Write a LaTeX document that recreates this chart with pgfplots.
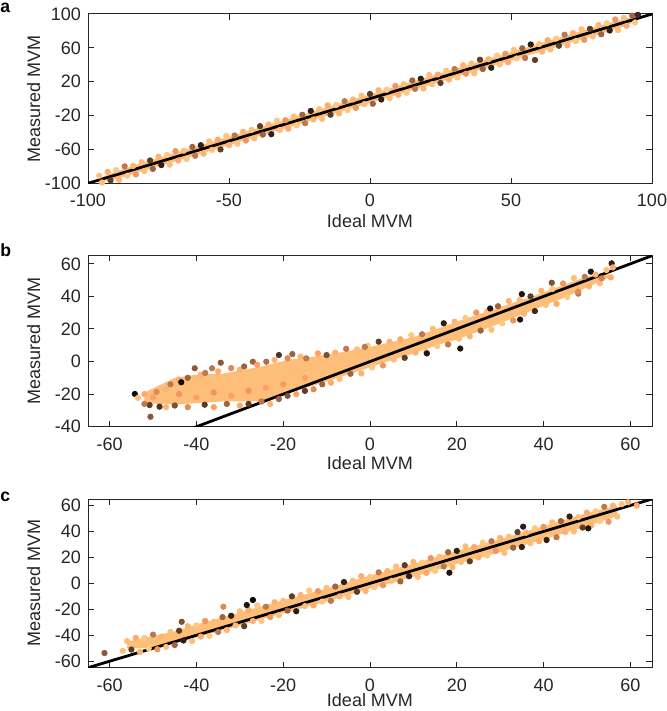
\documentclass[border=0pt]{standalone}
\usepackage{pgfplots}
\pgfplotsset{compat=1.18}
\usepackage{fontspec}
\setmainfont{Liberation Sans}
\definecolor{axgray}{RGB}{38,38,38}
\definecolor{peach}{RGB}{253,190,122}
\pgfplotsset{
  panel/.style={
    scale only axis, width=282pt,
    axis line style={axgray, line width=0.5pt},
    tick style={axgray, line width=0.5pt},
    tick align=inside, major tick length=2.8pt,
    ticklabel style={font=\fontsize{9}{11}\selectfont, text=axgray},
    /pgf/number format/assume math mode=true,
    xticklabel style={yshift=-2pt},
    label style={font=\fontsize{9}{11}\selectfont, text=axgray},
    xlabel={Ideal MVM}, ylabel={Measured MVM},
    xlabel style={at={(axis description cs:0.5,0)}, anchor=north, inner sep=0pt},
    ylabel style={at={([xshift=-23.6pt]axis description cs:0,0.5)}, anchor=south, inner sep=0pt},
    colormap={copper}{rgb255(0pt)=(0,0,0); rgb255(8pt)=(255,159,101); rgb255(10pt)=(255,199,127)},
    point meta min=0, point meta max=1,
  },
  dots/.style={scatter, only marks, mark=*, mark size=1.35pt, point meta=explicit,
    scatter/use mapped color={draw=mapped color, fill=mapped color}},
  band/.style={fill=peach, draw=none},
  diag/.style={black, line width=1.4pt},
}
\tikzset{letter/.style={anchor=base west, inner sep=0pt, font=\bfseries\fontsize{8.8}{10}\selectfont}}
\begin{document}
\begin{tikzpicture}
\useasboundingbox (0,0) rectangle (333pt,-355.5pt);
% ---------------- panel a
\begin{axis}[panel, at={(44pt,-7pt)}, anchor=north west, height=84.65pt,
  xlabel style={yshift=-15.3pt},
  xmin=-100, xmax=100, ymin=-100, ymax=100,
  xtick={-100,-50,0,50,100}, ytick={-100,-60,-20,20,60,100}]
\addplot[band] coordinates {(-96,-94) (-90,-86) (-80,-75) (-60,-55) (-40,-35) (-20,-15) (0,5) (20,25) (40,45) (60,65) (80,85) (90,94) (96,98)
 (96,94) (90,85) (80,75) (60,55) (40,35) (20,15) (0,-5) (-20,-25) (-40,-45) (-60,-65) (-80,-85) (-90,-95) (-96,-98)} -- cycle;
\addplot[dots] table[meta=c] {
x y c
-96 -91 0.95
-93 -86.5 0.85
-90 -84.5 1.0
-87 -80 0.6
-84 -79.5 0.9
-81 -75 0.95
-78 -73 0.3
-75 -68.5 0.9
-72 -66.5 1.0
-69 -62 0.75
-66 -61.5 0.95
-63 -57 0.5
-60 -55 0.15
-57 -50.5 0.95
-54 -48.5 0.85
-51 -44 1.0
-48 -43.5 0.6
-45 -39 0.9
-42 -37 0.95
-39 -32.5 0.3
-36 -30.5 0.9
-33 -26 1.0
-30 -25.5 0.75
-27 -21 0.95
-24 -19 0.5
-21 -14.5 0.15
-18 -12.5 0.95
-15 -8 0.85
-12 -7.5 1.0
-9 -3 0.6
-6 -1 0.9
-3 3.5 0.95
0 5.5 0.3
3 10 0.9
6 10.5 1.0
9 15 0.75
12 17 0.95
15 21.5 0.5
18 23.5 0.15
21 28 0.95
24 28.5 0.85
27 33 1.0
30 35 0.6
33 39.5 0.9
36 41.5 0.95
39 46 0.3
42 46.5 0.9
45 51 1.0
48 53 0.75
51 57.5 0.95
54 59.5 0.5
57 64 0.15
60 64.5 0.95
63 69 0.85
66 71 1.0
69 75.5 0.6
72 77.5 0.9
75 82 0.95
78 82.5 0.3
81 87 0.9
84 89 1.0
87 93.5 0.75
90 95.5 0.95
93 98 0.5
95 99 0.2
-95 -99 0.95
-92 -96.5 0.3
-89 -96 0.9
-86 -91 1.0
-83 -89.5 0.75
-80 -85.5 0.95
-77 -83 0.5
-74 -78.5 0.15
-71 -78 0.95
-68 -73 0.85
-65 -71.5 1.0
-62 -67.5 0.6
-59 -65 0.9
-56 -60.5 0.95
-53 -60 0.3
-50 -55 0.9
-47 -53.5 1.0
-44 -49.5 0.75
-41 -47 0.95
-38 -42.5 0.5
-35 -42 0.15
-32 -37 0.95
-29 -35.5 0.85
-26 -31.5 1.0
-23 -29 0.6
-20 -24.5 0.9
-17 -24 0.95
-14 -19 0.3
-11 -17.5 0.9
-8 -13.5 1.0
-5 -11 0.75
-2 -6.5 0.95
1 -6 0.5
4 -1 0.15
7 0.5 0.95
10 4.5 0.85
13 7 1.0
16 11.5 0.6
19 12 0.9
22 17 0.95
25 18.5 0.3
28 22.5 0.9
31 25 1.0
34 29.5 0.75
37 30 0.95
40 35 0.5
43 36.5 0.15
46 40.5 0.95
49 43 0.85
52 47.5 1.0
55 48 0.6
58.5 45.7 0.3
61 55.5 0.9
64 58 0.95
67 62.5 0.3
70 63 0.9
73 68 1.0
76 69.5 0.75
79 73.5 0.95
82 76 0.5
85 80.5 0.15
88 81 0.95
91 86 0.85
94 90 1.0
};
\addplot[diag] coordinates {(-100,-100) (100,100)};
\end{axis}
\node[letter] at (0pt,-6.1pt) {a};
% ---------------- panel b
\begin{axis}[panel, at={(44pt,-127.85pt)}, anchor=north west, height=85.5pt,
  xlabel style={yshift=-14.5pt},
  xmin=-65, xmax=65, ymin=-40, ymax=65,
  xtick={-60,-40,-20,0,20,40,60}, ytick={-40,-20,0,20,40,60}]
\addplot[band] coordinates {(-52,-19) (-45,-10) (-40,-8) (-34,-7.5) (-25,-3) (-19,1) (-9,4.5) (0,9) (10,15) (16,20.5) (20,24.5) (30,33.5) (37,39.5) (45,47.5) (50,52) (55,55.5)
 (55,51.5) (50,45.5) (45,39.5) (37,31) (30,23.5) (20,13.5) (16,10.5) (10,5) (4,0) (0,-3.5) (-9,-11.5) (-19,-19.5) (-25,-24.5) (-34,-24.5) (-40,-25.5) (-45,-26.5) (-52,-25.5)} -- cycle;
\addplot[dots] table[meta=c] {
x y c
-50 -22 0.8
-47 -22 0.95
-44 -20 0.75
-42 -16 0.95
-40 -22 0.8
-38 -14 0.95
-36 -19 0.75
-34 -12 0.95
-32 -21 0.8
-30 -14 0.95
-28 -18 0.75
-26 -10 0.95
-24 -16 0.8
-22 -8 0.95
-20 -14 0.78
-18 -6 0.95
-15 -10 0.8
-12 -3 0.95
-54.2 -19.9 0.05
-53.5 -22.3 0.95
-52 -20 0.85
-50.8 -26.7 0.3
-50.6 -33.9 0.45
-48.5 -27.7 0.25
-49.2 -18.6 0.7
-47 -17 0.9
-46 -14 0.6
-44 -11 0.85
-43.5 -12.7 0.05
-42 -10 0.5
-40.4 -4.1 0.45
-39 -8 0.9
-38 -7 0.6
-36.4 -4.1 0.6
-35 -6 0.85
-34.4 -0.7 0.45
-32 -4 0.7
-30 -5 0.9
-29 -3 0.5
-27 -0.1 0.5
-26 -2 0.8
-23.9 -0.1 0.55
-22 1 0.9
-21 4 0.25
-19 2 0.7
-17.9 4.6 0.5
-16 3 0.9
-14.7 2 0.6
-12 5 0.8
-10 4 0.4
-52 -26 0.6
-47 -28 0.9
-45 -27 0.4
-42 -28 0.7
-38.1 -26.5 0.3
-36 -28 0.8
-33 -26 0.5
-30 -27 0.85
-28 -26 0.3
-25 -24.5 0.6
-23 -26 0.9
-21 -23 0.5
-19 -21 0.4
-17 -20 0.8
-15 -18 0.3
-13 -17 0.7
-11 -14 0.5
-9 -13 0.85
-8 5.5 0.9
-5.5 7.8 0.6
-3 7.5 0.95
-0.5 9.7 1.0
-1.2 9 0.6
2 12.2 0.3
4.5 12.2 0.9
7 13.7 0.85
9.5 16.2 1.0
12 16.8 0.6
14.5 20.1 0.95
17 23.5 0.15
19.5 24.5 0.9
22 26.8 1.0
24.5 30.1 0.75
27 30.8 0.95
27.7 32.6 0.1
29.5 34 0.5
32 37.2 0.9
34.5 37.9 0.95
35 41.4 0.1
37 40 0.3
39.5 43.5 0.9
41.9 48.4 0.4
42 44.5 1.0
44.5 48 0.75
47 51.3 0.95
49.5 52 0.6
50.9 55.2 0.1
52 53.4 0.9
54.5 56.2 0.95
54.8 65.4 0.4
55.7 60.3 0.15
56 57.8 0.85
-7 -10.7 0.95
-4.5 -7.5 0.5
-2 -7.3 0.9
0.5 -3.6 1.0
3 -2.4 0.75
5.5 1.2 0.95
8 2.3 0.3
10.5 5.5 0.9
13 5.7 0.85
13.1 5 0.1
15.5 9.5 1.0
18 10.5 0.6
20.5 14 0.95
20.8 8 0.1
23 15.5 0.9
25.5 19 0.5
28 19.5 0.95
30.5 23.5 1.0
33 25.2 0.75
34.6 25.8 0.1
35.5 29.4 0.9
38 31 0.2
40.5 34.8 0.95
43 35.4 0.85
45.5 39.7 1.0
48 41.7 0.6
48 42.9 0.7
50.5 46.2 0.9
53 48 0.95
53.4 51.1 0.65
55.5 51.7 0.85
};
\addplot[diag] coordinates {(-65,-65) (65,65)};
\end{axis}
\node[letter] at (0pt,-128.35pt) {b};
% ---------------- panel c
\begin{axis}[panel, at={(44pt,-249.5pt)}, anchor=north west, height=84.35pt,
  xlabel style={yshift=-12.8pt},
  xmin=-65, xmax=65, ymin=-65, ymax=65,
  xtick={-60,-40,-20,0,20,40,60}, ytick={-60,-40,-20,0,20,40,60}]
\addplot[band] coordinates {(-56,-45) (-50,-40.5) (-45,-37) (-40,-31.7) (-30,-22.5) (-20,-13) (-10,-4) (0,6) (10,15) (20,25) (30,34) (40,44) (50,54) (57,60)
 (57,52) (50,44) (40,34) (30,24) (20,15) (10,5) (0,-4) (-10,-14) (-20,-23) (-30,-32.5) (-40,-41.7) (-45,-46) (-50,-49.8) (-56,-50)} -- cycle;
\addplot[dots] table[meta=c] {
x y c
-56 -44.5 0.95
-54 -42 0.85
-52 -42 1.0
-50 -39.5 0.6
-48 -41 0.9
-46 -37.5 0.95
-44 -36.5 0.3
-42 -33 0.9
-40 -32.5 1.0
-38 -29 0.75
-36 -29.5 0.95
-34 -26 0.5
-32 -25 0.15
-30 -21.5 0.95
-28 -20.5 0.85
-26 -17 1.0
-24 -18 0.6
-22 -14.5 0.9
-20 -13.5 0.95
-18 -10 0.3
-16 -9 0.9
-14 -5.5 1.0
-12 -6 0.75
-10 -3.5 0.95
-8 -2.5 0.5
-6 1 0.15
-4 2 0.95
-2 5.5 0.85
0 5 1.0
2 8.5 0.6
4 9.5 0.9
6 13 0.95
8 14 0.3
10 16.5 0.9
12 16 1.0
14 19.5 0.75
16 20.5 0.95
18 24 0.5
20 25 0.15
22 28.5 0.95
24 28 0.85
26 31.5 1.0
28 32.5 0.6
30 35 0.9
32 36 0.95
34 39.5 0.3
36 39 0.9
38 42.5 1.0
40 43.5 0.75
42 47 0.95
44 48 0.5
46 51.5 0.15
48 51 0.95
50 54.5 0.85
52 55.5 1.0
54 59 0.6
56 60 0.9
58 61 0.95
-61.2 -53.7 0.45
-27 -12.8 0.02
-28.4 -16.7 0.1
-33.8 -18 0.7
-43.4 -29.6 0.4
35.3 43.7 0.15
61.5 60 0.85
59.5 62.5 0.9
-57 -52 0.95
-55 -51 0.3
-53 -52.8 0.9
-51 -50 1.0
-49 -50.8 0.75
-47 -49 0.95
-45 -47.5 0.5
-43 -44 0.15
-41 -44.5 0.95
-39 -41 0.85
-37 -40.5 1.0
-35 -37.5 0.6
-33 -36 0.9
-31 -32.5 0.95
-29 -33 0.3
-27 -29 0.9
-25 -29 1.0
-23 -26 0.75
-21 -24.5 0.95
-19 -21 0.5
-17 -21.5 0.15
-15 -17.5 0.95
-13 -17 0.85
-11 -14 1.0
-9 -13.5 0.6
-7 -10 0.9
-5 -10.5 0.95
-3 -6.5 0.3
-1 -6 0.9
1 -3 1.0
3 -1.5 0.75
5 2 0.95
7 1.5 0.5
9 5.5 0.15
11 5 0.95
13 8 0.85
15 9.5 1.0
17 13 0.6
19 12.5 0.9
21 16.5 0.95
23 17 0.3
25 20 0.9
27 21.5 1.0
29 25 0.75
31 23.5 0.95
33 27.5 0.5
35 28 0.15
37 31 0.95
39 32.5 0.85
41 36 1.0
43 35.5 0.6
45 39.5 0.9
47 40 0.95
49 43 0.3
51 44.5 0.9
53 48 1.0
55 47.5 0.75
57 51.5 0.95
18.3 8.2 0.1
40.7 33.4 0.15
50.3 42.4 0.1
};
\addplot[diag] coordinates {(-65,-65) (65,65)};
\end{axis}
\node[letter] at (0pt,-250.85pt) {c};
\end{tikzpicture}
\end{document}
